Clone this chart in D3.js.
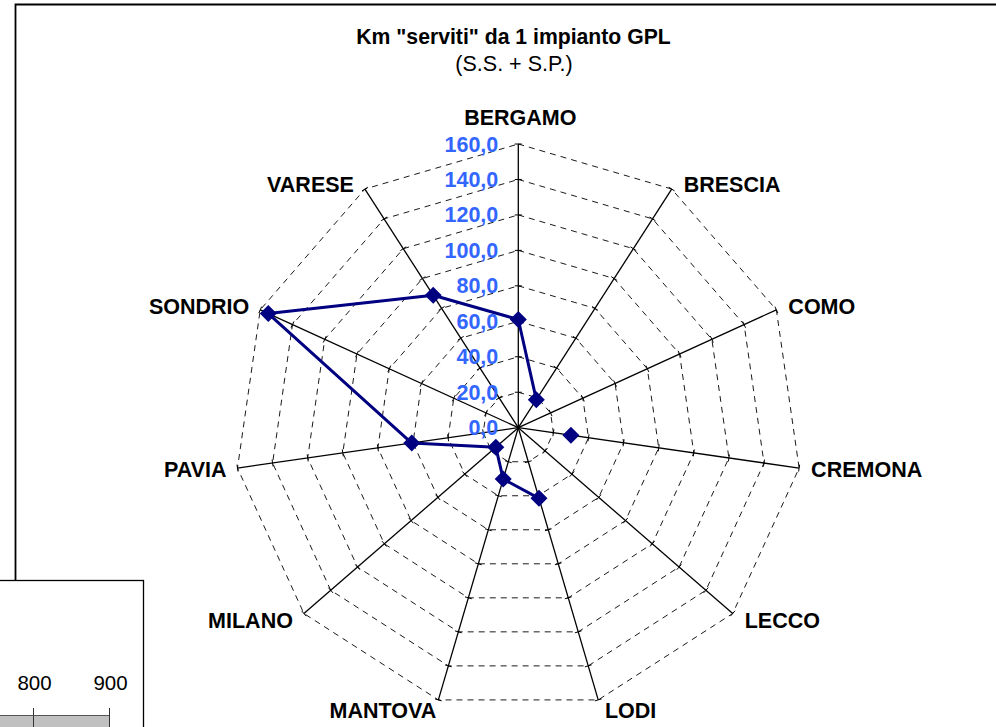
<!DOCTYPE html>
<html>
<head>
<meta charset="utf-8">
<script src="https://cdn.jsdelivr.net/npm/d3@7"></script>
<style>
  body { margin: 0; background: #fff; }
  svg { display: block; font-family: Arial, "Liberation Sans", sans-serif; }
</style>
</head>
<body>
<svg id="chart" width="996" height="727"></svg>
<script>
const provinces = ['BERGAMO', 'BRESCIA', 'COMO', 'CREMONA', 'LECCO', 'LODI',
  'MANTOVA', 'MILANO', 'PAVIA', 'SONDRIO', 'VARESE']
// km served per LPG station, null where no value is plotted
const kmServed = [61, 18.8, null, 30, null, 41.5, 30.2, 16.8, 60.7, 155, 88.8]
const radialTicks = [0, 20, 40, 60, 80, 100, 120, 140, 160]
const insetTicks = [800, 900]

const cx = 518.3
const cy = 427.7
const outerRadius = 283.7
const labelBlue = '#3366FF'
const seriesColor = '#000080'

const svg = d3.select('#chart')

// outer frame of the chart area
svg.append('path')
  .attr('d', 'M15.5,740 V4.5 H1000')
  .attr('fill', 'none')
  .attr('stroke', '#000')
  .attr('stroke-width', 1.8)

svg.append('text')
  .attr('x', 513.5).attr('y', 44)
  .attr('text-anchor', 'middle')
  .attr('font-size', 21.2).attr('font-weight', 'bold')
  .text('Km "serviti" da 1 impianto GPL')

svg.append('text')
  .attr('x', 514).attr('y', 70.5)
  .attr('text-anchor', 'middle')
  .attr('font-size', 21.5)
  .text('(S.S. + S.P.)')

const r = d3.scaleLinear().domain([0, 160]).range([0, outerRadius])
const angle = d3.scalePoint().domain(provinces).range([0, 2 * Math.PI * (1 - 1 / provinces.length)])

function pt(name, v) {
  const a = angle(name)
  return [cx + Math.sin(a) * r(v), cy - Math.cos(a) * r(v)]
}

const g = svg.append('g')

// dashed grid polygons
radialTicks.slice(1).forEach((t) => {
  g.append('path')
    .attr('d', d3.line()(provinces.concat([provinces[0]]).map((p) => pt(p, t))))
    .attr('fill', 'none')
    .attr('stroke', '#000')
    .attr('stroke-width', 0.9)
    .attr('stroke-dasharray', '6,5')
})

// axes with tick marks
provinces.forEach((p) => {
  const a = angle(p)
  const end = pt(p, 160)
  g.append('line')
    .attr('x1', cx).attr('y1', cy)
    .attr('x2', end[0]).attr('y2', end[1])
    .attr('stroke', '#000').attr('stroke-width', 1.3)

  radialTicks.slice(1).forEach((t) => {
    const c = pt(p, t)
    const px = Math.cos(a) * 3.5
    const py = Math.sin(a) * 3.5
    g.append('line')
      .attr('x1', c[0] - px).attr('y1', c[1] - py)
      .attr('x2', c[0] + px).attr('y2', c[1] + py)
      .attr('stroke', '#000').attr('stroke-width', 1)
  })

  // category label
  const s = Math.sin(a)
  const co = Math.cos(a)
  let anchor = 'middle'
  let x = end[0] + 2
  let y = end[1] - 19
  if (s > 0.1) {
    anchor = 'start'
    x = end[0] + 12 * Math.min(1, s * 2)
    y = end[1] + Math.max(3, 8 - 10 * co)
  } else if (s < -0.1) {
    anchor = 'end'
    x = end[0] - 11 * Math.min(1, -s * 2) + (s > -0.3 ? 4 : 0)
    y = end[1] + Math.max(3, 8 - 10 * co)
  }
  g.append('text')
    .attr('x', x).attr('y', y)
    .attr('text-anchor', anchor)
    .attr('font-size', 21.5).attr('font-weight', 'bold')
    .text(p)
})

// radial value labels
g.selectAll('text.tick')
  .data(radialTicks)
  .join('text')
  .attr('class', 'tick')
  .attr('x', cx - 20)
  .attr('y', (d) => cy - r(d) + 7.5)
  .attr('text-anchor', 'end')
  .attr('font-size', 21.5).attr('font-weight', 'bold')
  .attr('fill', labelBlue)
  .text((d) => d3.format('.1f')(d).replace('.', ','))

// series line with gaps, closed back to the first point
const closed = kmServed.map((v, i) => ({ p: provinces[i], v })).concat([{ p: provinces[0], v: kmServed[0] }])
g.append('path')
  .attr('d', d3.line()
    .defined((d) => d.v != null)
    .x((d) => pt(d.p, d.v)[0])
    .y((d) => pt(d.p, d.v)[1])(closed))
  .attr('fill', 'none')
  .attr('stroke', seriesColor)
  .attr('stroke-width', 3)
  .attr('stroke-linejoin', 'round')

g.selectAll('path.marker')
  .data(kmServed.map((v, i) => ({ p: provinces[i], v })).filter((d) => d.v != null))
  .join('path')
  .attr('class', 'marker')
  .attr('transform', (d) => `translate(${pt(d.p, d.v)})`)
  .attr('d', 'M0,-8.5 L8.5,0 L0,8.5 L-8.5,0 Z')
  .attr('fill', seriesColor)

// overlapping fragment of another chart at the bottom left
const inset = svg.append('g')
inset.append('rect')
  .attr('x', -5).attr('y', 580.5)
  .attr('width', 148.5).attr('height', 160)
  .attr('fill', '#fff')
  .attr('stroke', '#000').attr('stroke-width', 1.3)

const ix = d3.scaleLinear().domain([800, 900]).range([33.5, 109.5])
inset.append('rect')
  .attr('x', -5).attr('y', 715.5)
  .attr('width', ix(900) + 5).attr('height', 20)
  .attr('fill', '#c0c0c0')
  .attr('stroke', '#555').attr('stroke-width', 1)

inset.selectAll('line.itick')
  .data(insetTicks)
  .join('line')
  .attr('class', 'itick')
  .attr('x1', (d) => ix(d)).attr('x2', (d) => ix(d))
  .attr('y1', 708).attr('y2', 730)
  .attr('stroke', '#333').attr('stroke-width', 1)

inset.selectAll('text.ilabel')
  .data(insetTicks)
  .join('text')
  .attr('class', 'ilabel')
  .attr('x', (d) => ix(d) + 1)
  .attr('y', 689.5)
  .attr('text-anchor', 'middle')
  .attr('font-size', 20.5)
  .text((d) => d)
</script>
</body>
</html>
